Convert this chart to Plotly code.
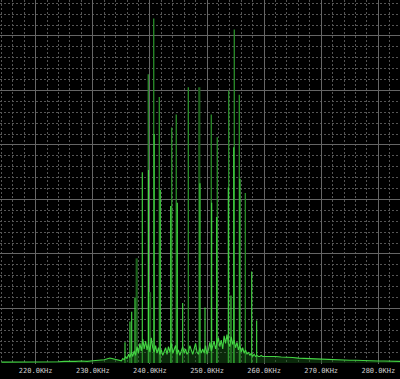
import plotly.graph_objects as go

# ---- data (kHz, linear amplitude units) ----
tick_vals = [220, 230, 240, 250, 260, 270, 280]
tick_text = ["220.0KHz", "230.0KHz", "240.0KHz", "250.0KHz", "260.0KHz", "270.0KHz", "280.0KHz"]

# main (medium green) carrier lines
main_freq = [239.72, 240.67, 241.65, 243.82, 244.62, 246.73, 250.75, 251.80, 253.80, 254.78, 255.66, 256.71]
main_amp = [26.5, 31.6, 24.4, 21.6, 22.8, 25.3, 22.8, 20.7, 25.0, 30.6, 24.6, 15.6]

# dark green wide lines
dark_freq = [248.65, 237.69, 240.02]
dark_amp = [25.3, 9.6, 6.5]

# bright green lines
bright_freq = [238.67, 239.75, 240.75, 241.82, 243.64, 244.80, 248.77, 250.82, 251.70, 253.73, 254.68,
               255.78, 236.81, 235.64, 249.65, 257.83, 258.70, 254.20, 237.39, 236.51, 245.74]
bright_amp = [17.5, 17.7, 21.0, 15.9, 14.4, 14.7, 16.5, 14.7, 13.4, 16.1, 19.8,
              16.9, 4.7, 1.9, 5.1, 8.4, 3.9, 6.2, 6.0, 3.8, 5.5]

# noise floor
floor_left_freq = list(range(214, 235))
floor_left_amp = [0.08, 0.08, 0.10, 0.08, 0.09, 0.10, 0.08, 0.10, 0.12, 0.10, 0.12,
                  0.15, 0.12, 0.15, 0.18, 0.15, 0.20, 0.25, 0.30, 0.45, 0.35]
hump_freq = [235 + 0.25 * i for i in range(101)]
hump_amp = [0.2, 0.4, 0.3, 0.6, 0.4, 0.8, 0.5, 1.0, 0.6,
            1.1, 0.7, 1.5, 0.9, 1.8, 1.1, 2.2, 1.3,
            2.0, 1.2, 1.8, 1.0, 2.3, 1.4, 1.0, 1.6,
            0.9, 1.4, 0.8, 1.2, 0.7, 1.0, 1.4, 0.8,
            1.5, 1.0, 1.8, 0.9, 1.3, 1.6, 0.8, 1.2,
            0.7, 1.1, 1.5, 0.9, 1.3, 0.8, 1.0, 1.6,
            1.1, 0.8, 1.3, 1.8, 1.0, 0.8, 1.4, 0.9,
            1.3, 0.9, 1.6, 0.8, 1.2, 1.9, 1.1, 1.5,
            2.0, 1.3, 1.7, 2.3, 1.5, 2.1, 1.3, 2.5,
            1.8, 2.6, 1.8, 1.5, 2.4, 1.7, 2.1, 1.4,
            1.9, 1.2, 1.6, 1.0, 1.4, 0.9, 1.2, 0.8,
            1.0, 0.7, 0.9, 0.6, 0.8, 0.6, 0.7, 0.6,
            0.6, 0.7, 0.6, 0.6]
floor_right_freq = list(range(261, 285))
floor_right_amp = [0.65, 0.60, 0.55, 0.55, 0.50, 0.45, 0.45, 0.40, 0.38, 0.35, 0.33, 0.30,
                   0.30, 0.28, 0.25, 0.25, 0.22, 0.20, 0.20, 0.18, 0.18, 0.15, 0.15, 0.15]


def spikes(freqs, amps):
    xs, ys = [], []
    for f, a in zip(freqs, amps):
        xs += [f, f, None]
        ys += [0, a, None]
    return xs, ys


fig = go.Figure()
for fr, am, col, w in [(main_freq, main_amp, "#2a8f2a", 1.3),
                       (dark_freq, dark_amp, "#1c621c", 2.2),
                       (bright_freq, bright_amp, "#45dd45", 1.1)]:
    xs, ys = spikes(fr, am)
    fig.add_trace(go.Scatter(x=xs, y=ys, mode="lines", line=dict(color=col, width=w),
                             hoverinfo="skip", showlegend=False))

noise_x = floor_left_freq + hump_freq + floor_right_freq
noise_y = floor_left_amp + hump_amp + floor_right_amp
fig.add_trace(go.Scatter(x=noise_x, y=noise_y, mode="lines",
                         line=dict(color="#44d444", width=1.1), fill="tozeroy",
                         fillcolor="rgba(25,90,25,0.45)", hoverinfo="skip", showlegend=False))

major = "#666666"
minor = "#555555"
fig.update_layout(
    width=400, height=379,
    margin=dict(l=0, r=0, t=0, b=15),
    paper_bgcolor="#000000", plot_bgcolor="#000000",
    xaxis=dict(range=[213.75, 283.8], tickvals=tick_vals, ticktext=tick_text,
               showgrid=True, gridcolor=major, gridwidth=1, zeroline=False, ticks="",
               showline=False, ticklabelstandoff=1,
               tickfont=dict(family="DejaVu Sans Mono", size=7, color="#cfcfcf"),
               minor=dict(tick0=220, dtick=2, showgrid=True, gridcolor=minor,
                          griddash="2px,2px", gridwidth=1)),
    yaxis=dict(range=[-0.092, 33.3], tick0=0, dtick=5, showticklabels=False,
               showgrid=True, gridcolor=major, gridwidth=1, zeroline=False, ticks="",
               minor=dict(tick0=0, dtick=1, showgrid=True, gridcolor=minor,
                          griddash="2px,2px", gridwidth=1)),
)

fig.write_html("out.html")
